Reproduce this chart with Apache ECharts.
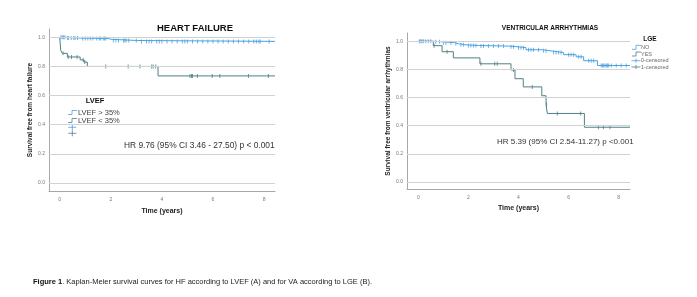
<!DOCTYPE html>
<html>
<head>
<meta charset="utf-8">
<script src="https://cdn.jsdelivr.net/npm/echarts@6/dist/echarts.min.js"></script>
<style>
  html, body { margin: 0; padding: 0; background: #fff; }
  #main { width: 697px; height: 297px; }
</style>
</head>
<body>
<div id="main"></div>
<script>
// ---- data ----
var yTicks = [0, 0.2, 0.4, 0.6, 0.8, 1.0];
var xTicks = [0, 2, 4, 6, 8];

// A: heart failure by LVEF
var hfHighTimes = [0, 0.25, 0.8, 1.85, 2.05, 3.05, 8.43];
var hfHighSurv = [1.0, 0.995, 0.992, 0.986, 0.978, 0.972, 0.972];
var hfHighCens = [0.05, 0.1, 0.15, 0.2, 0.3, 0.35, 0.45, 0.55, 0.6, 0.7, 0.9, 1.0, 1.1, 1.2, 1.3, 1.45, 1.55, 1.6, 1.7, 1.75, 1.8,
  2.1, 2.2, 2.3, 2.5, 2.55, 2.6, 2.7, 3.0, 3.2, 3.4, 3.5, 3.6, 3.8, 3.9, 4.0, 4.2, 4.4, 4.6, 4.8, 4.9, 5.0, 5.2, 5.4,
  5.6, 5.8, 6.0, 6.2, 6.4, 6.6, 6.8, 7.0, 7.2, 7.4, 7.6, 7.7, 7.8, 7.85, 8.2];
var hfLowTimes = [0, 0.04, 0.1, 0.3, 0.8, 0.95, 1.08, 3.85, 8.43];
var hfLowSurv = [1.0, 0.91, 0.89, 0.865, 0.845, 0.83, 0.8, 0.735, 0.735];
var hfLowCens = [0.13, 0.33, 0.46, 0.68, 0.92, 0.98, 1.8, 2.68, 3.14, 3.6, 3.66, 3.76, 5.1, 5.16, 5.2, 5.39, 5.97, 6.27, 7.39, 8.17];

// B: ventricular arrhythmias by LGE
var vaNoTimes = [0, 0.6, 0.95, 1.45, 1.6, 1.9, 2.45, 3.6, 3.9, 4.3, 4.95, 5.3, 5.8, 6.3, 6.6, 7.15, 8.45];
var vaNoSurv = [1.0, 0.997, 0.99, 0.983, 0.975, 0.97, 0.966, 0.962, 0.955, 0.94, 0.932, 0.92, 0.905, 0.89, 0.862, 0.828, 0.828];
var vaNoCens = [0.05, 0.1, 0.15, 0.2, 0.3, 0.4, 0.5, 0.7, 0.85, 1.0, 1.1, 1.3, 1.5, 1.7, 1.8, 2.0, 2.1, 2.2, 2.3, 2.5, 2.6,
  2.8, 3.0, 3.2, 3.4, 3.7, 3.8, 4.0, 4.1, 4.2, 4.4, 4.5, 4.6, 4.8, 5.0, 5.1, 5.4, 5.5, 5.6, 5.7, 6.0, 6.1, 6.2, 6.4,
  6.5, 6.8, 6.9, 7.0, 7.3, 7.35, 7.4, 7.45, 7.5, 7.55, 7.6, 7.7, 7.9, 8.1, 8.3];
var vaYesTimes = [0, 0.6, 0.95, 1.4, 2.46, 3.7, 3.86, 4.19, 4.93, 5.1, 5.15, 6.63, 8.45];
var vaYesSurv = [1.0, 0.969, 0.926, 0.882, 0.84, 0.796, 0.734, 0.676, 0.613, 0.55, 0.487, 0.389, 0.389];
var vaYesCens = [0.63, 1.15, 2.5, 3.05, 3.15, 3.8, 4.55, 5.12, 5.55, 6.48, 7.19, 7.39, 7.65];

var BLUE = '#4aa0df';
var TEAL = '#4f8082';
var GRID = '#d2d2d2';
var AXIS = '#a8a8a8';

function steps(times, surv) {
  var out = [];
  for (var i = 0; i < times.length; i++) out.push([times[i], surv[i]]);
  return out;
}
// survival value at time t (last step at or before t)
function survAt(times, surv, t) {
  var v = surv[0];
  for (var i = 0; i < times.length; i++) {
    if (times[i] <= t) v = surv[i];
  }
  return v;
}
function cens(times, surv, ct) {
  return ct.map(function (t) { return [t, survAt(times, surv, t)]; });
}

function xAx(idx, min, max, gap) {
  return {
    gridIndex: idx, type: 'value', min: min, max: max,
    name: 'Time (years)', nameLocation: 'middle', nameGap: gap,
    nameTextStyle: {fontFamily: 'Liberation Sans', fontWeight: 'bold', fontSize: 7, color: '#222'},
    axisLine: {show: true, onZero: false, lineStyle: {color: AXIS}},
    axisTick: {show: false},
    splitLine: {show: false},
    axisLabel: {customValues: xTicks, fontSize: 5, color: '#777', margin: 6, fontFamily: 'Liberation Sans'}
  };
}
function yAx(idx, min, max, name, gap) {
  return {
    gridIndex: idx, type: 'value', min: min, max: max,
    name: name, nameLocation: 'middle', nameGap: gap,
    nameTextStyle: {fontFamily: 'Liberation Sans', fontWeight: 'bold', fontSize: 6.5, color: '#222'},
    axisLine: {show: true, onZero: false, lineStyle: {color: AXIS}},
    axisTick: {show: false},
    splitLine: {show: false},
    axisLabel: {customValues: yTicks, fontSize: 5, color: '#777', margin: 4, fontFamily: 'Liberation Sans',
      formatter: function (v) { return v.toFixed(1); }}
  };
}
function gridLines(idx) {
  return {
    type: 'line', xAxisIndex: idx, yAxisIndex: idx, data: [], silent: true,
    markLine: {
      silent: true, symbol: 'none', label: {show: false},
      lineStyle: {color: GRID, width: 1, type: 'solid'},
      data: yTicks.map(function (v) { return {yAxis: v}; })
    }
  };
}
function curve(idx, data, color) {
  return {type: 'line', xAxisIndex: idx, yAxisIndex: idx, step: 'end', data: data, showSymbol: false,
    lineStyle: {color: color, width: 1}, animation: false, silent: true};
}
function marks(idx, data, color) {
  return {type: 'scatter', xAxisIndex: idx, yAxisIndex: idx, data: data, symbol: 'rect', symbolSize: [1, 4],
    itemStyle: {color: color}, animation: false, silent: true};
}

function txt(x, y, text, size, weight, color, align, family) {
  return {type: 'text', x: x, y: y, silent: true, style: {
    text: text, fontSize: size, fontWeight: weight || 'normal', fill: color || '#222',
    fontFamily: family || 'Liberation Sans', align: align || 'left', verticalAlign: 'middle'}};
}
function stepIcon(x, y, color) {
  return {type: 'polyline', silent: true, shape: {points: [[x, y + 2], [x + 4, y + 2], [x + 4, y - 2], [x + 9, y - 2]]},
    style: {stroke: color, lineWidth: 0.8, fill: null}};
}
function cross(x, y, w, h, color) {
  return {type: 'group', silent: true, children: [
    {type: 'line', shape: {x1: x - w / 2, y1: y, x2: x + w / 2, y2: y}, style: {stroke: color, lineWidth: 0.8}},
    {type: 'line', shape: {x1: x, y1: y - h / 2, x2: x, y2: y + h / 2}, style: {stroke: color, lineWidth: 0.8}}
  ]};
}

var myChart = echarts.init(document.getElementById('main'), null, {renderer: 'canvas'});
myChart.setOption({
  animation: false,
  grid: [
    {left: 49, right: 422, top: 29, bottom: 106},
    {left: 407, right: 67, top: 33, bottom: 108}
  ],
  xAxis: [xAx(0, -0.42, 8.43, 17), xAx(1, -0.45, 8.45, 16)],
  yAxis: [
    yAx(0, -0.055, 1.057, 'Survival free from heart failure', 13.5),
    yAx(1, -0.05, 1.059, 'Survival free from ventricular arrhythmias', 13.5)
  ],
  series: [
    gridLines(0),
    gridLines(1),
    curve(0, steps(hfLowTimes, hfLowSurv), TEAL),
    curve(0, steps(hfHighTimes, hfHighSurv), BLUE),
    marks(0, cens(hfLowTimes, hfLowSurv, hfLowCens), TEAL),
    marks(0, cens(hfHighTimes, hfHighSurv, hfHighCens), BLUE),
    curve(1, steps(vaYesTimes, vaYesSurv), TEAL),
    curve(1, steps(vaNoTimes, vaNoSurv), BLUE),
    marks(1, cens(vaYesTimes, vaYesSurv, vaYesCens), TEAL),
    marks(1, cens(vaNoTimes, vaNoSurv, vaNoCens), BLUE)
  ],
  graphic: [
    txt(195, 28, 'HEART FAILURE', 9.5, 'bold', '#111', 'center'),
    txt(550, 28, 'VENTRICULAR ARRHYTHMIAS', 6.5, 'bold', '#111', 'center'),
    // legend A
    txt(95, 101, 'LVEF', 7.5, 'bold', '#111', 'center'),
    stepIcon(68, 112.5, BLUE),
    txt(78, 113, 'LVEF > 35%', 7.5, 'normal', '#444'),
    stepIcon(68, 120.5, TEAL),
    txt(78, 121, 'LVEF < 35%', 7.5, 'normal', '#444'),
    cross(72.3, 127.3, 8, 6, BLUE),
    cross(72.3, 133.3, 8, 6, TEAL),
    txt(124, 146, 'HR 9.76 (95% CI 3.46 - 27.50) p < 0.001', 8.4, 'normal', '#333'),
    // legend B
    txt(650, 39, 'LGE', 6.5, 'bold', '#111', 'center'),
    stepIcon(632, 47.3, BLUE),
    txt(641, 47.3, 'NO', 5.5, 'normal', '#666'),
    stepIcon(632, 54, TEAL),
    txt(641, 54, 'YES', 5.5, 'normal', '#666'),
    cross(636, 60.7, 9, 4, BLUE),
    txt(641, 60.7, '0-censored', 5.5, 'normal', '#666'),
    cross(636, 67, 9, 4, TEAL),
    txt(641, 67, '1-censored', 5.5, 'normal', '#666'),
    txt(497, 142, 'HR 5.39 (95% CI 2.54-11.27) p <0.001', 8, 'normal', '#333'),
    // caption
    {type: 'text', x: 33, y: 282, silent: true, style: {
      text: '{b|Figure 1}. Kaplan-Meier survival curves for HF according to LVEF (A) and for VA according to LGE (B).',
      fontSize: 7.5, fontFamily: 'Liberation Sans', fill: '#222', verticalAlign: 'middle',
      rich: {b: {fontWeight: 'bold', fontSize: 7.5, fontFamily: 'Liberation Sans', fill: '#111'}}
    }}
  ]
});
</script>
</body>
</html>
